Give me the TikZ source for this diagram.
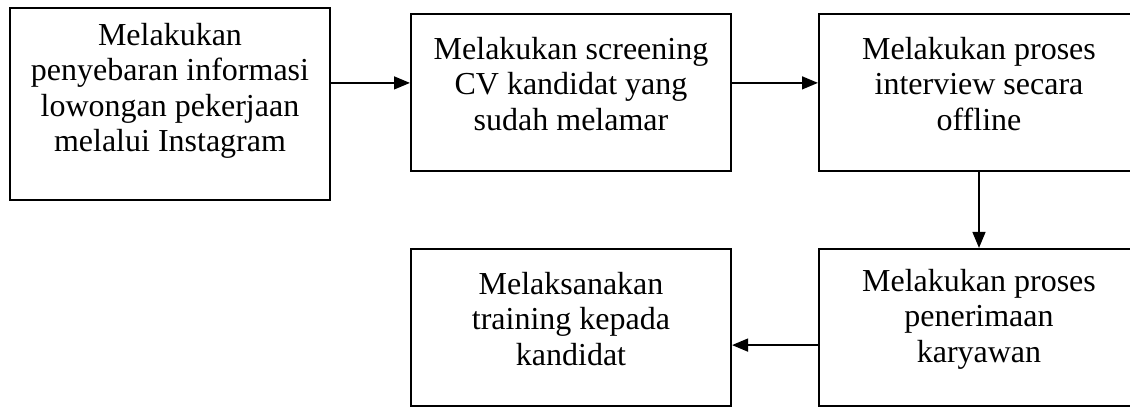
\documentclass[tikz,border=0pt]{standalone}
\usepackage{fontspec}
\setmainfont{Liberation Serif}
\usetikzlibrary{arrows.meta}
\begin{document}
\begin{tikzpicture}[x=0.375pt,y=-0.375pt,line width=0.75pt,
  box/.style={draw,minimum width=120pt,inner sep=0pt},
  txt/.style={align=center,font=\fontsize{12}{13.3}\selectfont},
  arr/.style={-{Triangle[length=6pt,width=4.8pt]}}]
  \useasboundingbox (0,0) rectangle (1130,407);
  \clip (0,0) rectangle (1130,407);
  \node[box,minimum height=72pt] (b1) at (170,104) {};
  \node[box,minimum height=58.9pt] (b2) at (571,92.5) {};
  \node[box,minimum height=58.9pt] (b3) at (979,92.5) {};
  \node[box,minimum height=58.9pt] (b4) at (571,327.5) {};
  \node[box,minimum height=58.9pt] (b5) at (979,327.5) {};
  \node[txt] (t1) at (170,91) {Melakukan\\penyebaran informasi\\lowongan pekerjaan\\melalui Instagram};
  \node[txt] (t2) at (571,84) {Melakukan screening\\CV kandidat yang\\sudah melamar};
  \node[txt] (t3) at (979,84) {Melakukan proses\\interview secara\\offline};
  \node[txt] (t4) at (571,319) {Melaksanakan\\training kepada\\kandidat};
  \node[txt] (t5) at (979,319) {Melakukan proses\\penerimaan\\karyawan};
  \draw[arr] ([yshift=7.9pt]b1.east) -- ([yshift=7.9pt]b1.east -| b2.west);
  \draw[arr] ([yshift=3.6pt]b2.east) -- ([yshift=3.6pt]b2.east -| b3.west);
  \draw[arr] (b3.south) -- (b5.north);
  \draw[arr] ([yshift=-6.6pt]b5.west) -- ([yshift=-6.6pt]b5.west -| b4.east);
\end{tikzpicture}
\end{document}
